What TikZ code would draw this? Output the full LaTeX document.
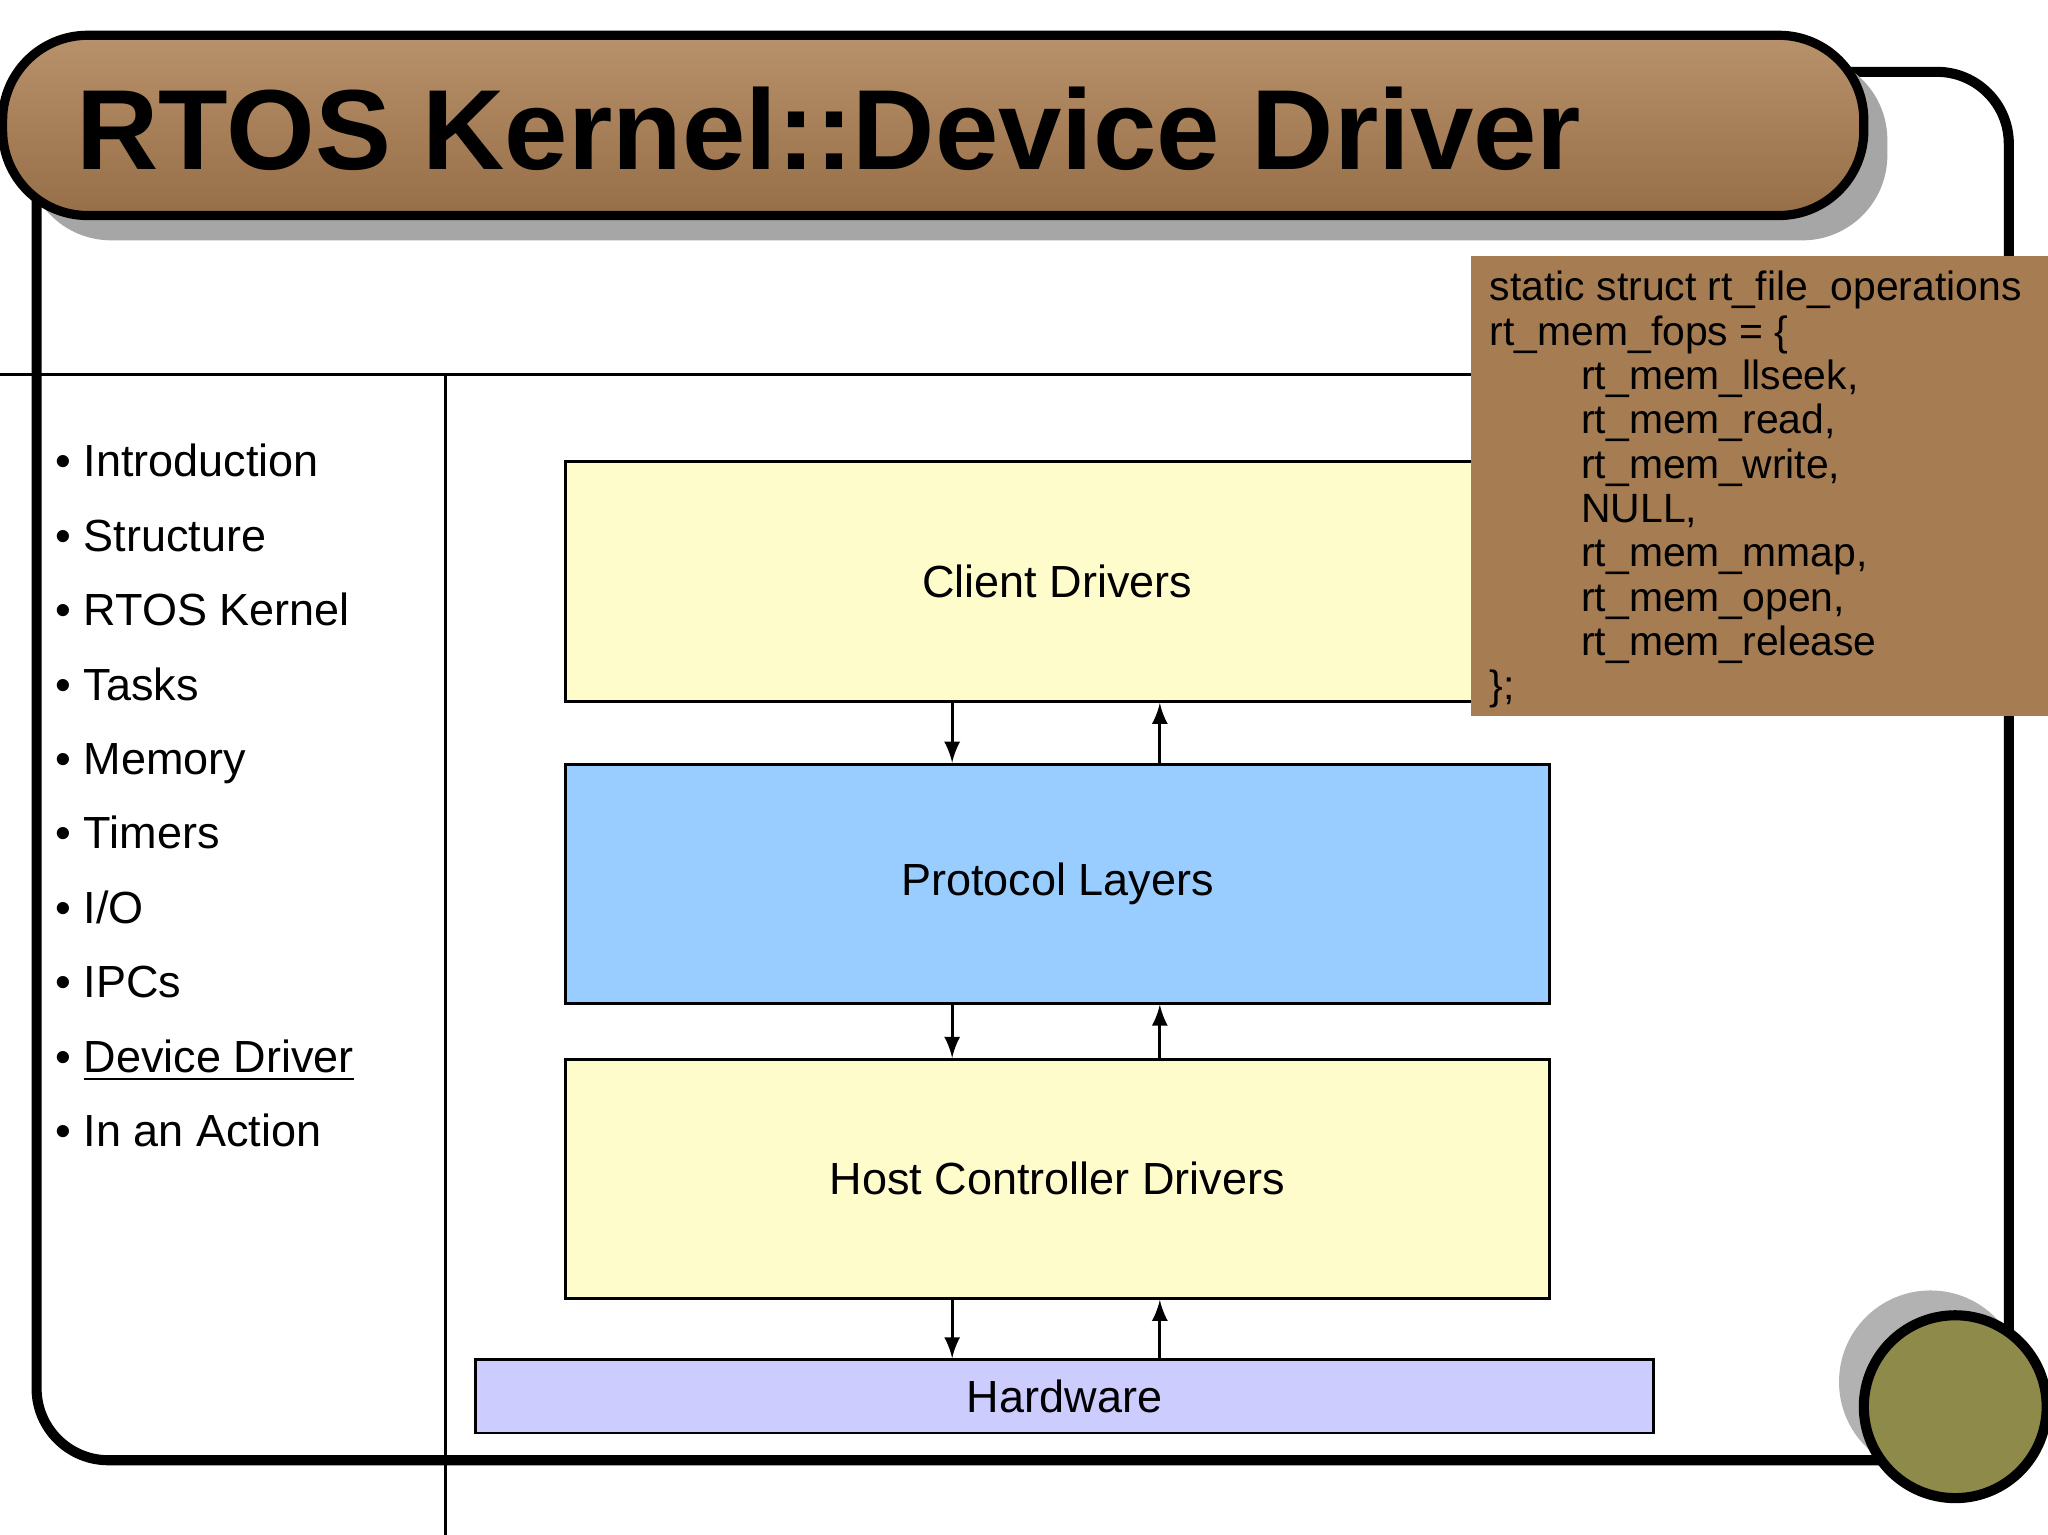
\documentclass[tikz,border=0pt]{standalone}
\usepackage{fontspec}
\setmainfont{Liberation Sans}
\definecolor{codebrown}{RGB}{166,124,82}
\definecolor{protoblue}{RGB}{153,204,255}
\definecolor{hwlav}{RGB}{204,204,255}
\definecolor{olive}{RGB}{142,138,74}
\definecolor{titletop}{RGB}{184,146,106}
\definecolor{titlebot}{RGB}{150,110,72}
\begin{document}
\begin{tikzpicture}[x=0.01cm,y=-0.01cm,
  box/.style={draw=black,line width=0.6pt,inner sep=0pt},
  lbl/.style={font=\fontsize{9.8pt}{11pt}\selectfont},
  arr/.style={-latex,line width=0.6pt},
  bul/.style={anchor=base west,font=\fontsize{9.8pt}{11pt}\selectfont}]
\useasboundingbox (0,0) rectangle (1568,1175);
\fill[white] (0,0) rectangle (1568,1175);
% outer frame
\draw[line width=2.2pt,rounded corners=0.55cm] (28,150) -- (28,1118) -- (1538,1118) -- (1538,55) -- (1400,55);
% title
\fill[gray!70,rounded corners=0.65cm] (20,42) rectangle (1445,184);
\shade[top color=titletop,bottom color=titlebot,rounded corners=0.65cm,draw=black,line width=2pt] (2,27) rectangle (1427,165);
\node[anchor=base west,inner sep=0pt,font=\bfseries\fontsize{24.8pt}{28pt}\selectfont] (title) at (58,130) {RTOS Kernel::Device Driver};
% separator lines
\draw[line width=0.6pt] (0,287) -- (1130,287);
\draw[line width=0.6pt] (341,287) -- (341,1175);
% bullets
\foreach \t [count=\i from 0] in {Introduction,Structure,RTOS Kernel,Tasks,Memory,Timers,I/O,IPCs}
  \node[bul] (b\i) at (30,365+57*\i) {• \t};
\node[bul] (b8) at (30,821) {• \underline{Device Driver}};
\node[bul] (b9) at (30,878) {• In an Action};
% boxes
\node[box,fill=yellow!20,minimum width=753*0.01cm,minimum height=184*0.01cm,anchor=north west,lbl] (client) at (432,352) {Client Drivers};
\node[box,fill=protoblue,minimum width=753*0.01cm,minimum height=183*0.01cm,anchor=north west,lbl] (proto) at (432,584) {Protocol Layers};
\node[box,fill=yellow!20,minimum width=753*0.01cm,minimum height=183*0.01cm,anchor=north west,lbl] (host) at (432,810) {Host Controller Drivers};
\node[box,fill=hwlav,minimum width=902*0.01cm,minimum height=56*0.01cm,anchor=north west,lbl] (hw) at (363,1040) {Hardware};
% arrows
\draw[arr] (client.south -| 729,0) -- (proto.north -| 729,0);
\draw[arr] (proto.north -| 888,0) -- (client.south -| 888,0);
\draw[arr] (proto.south -| 729,0) -- (host.north -| 729,0);
\draw[arr] (host.north -| 888,0) -- (proto.south -| 888,0);
\draw[arr] (host.south -| 729,0) -- (hw.north -| 729,0);
\draw[arr] (hw.north -| 888,0) -- (host.south -| 888,0);
% code box
\fill[codebrown] (1126,196) rectangle (1568,548);
\node[anchor=north west,align=left,inner sep=0pt,font=\fontsize{8.9pt}{9.65pt}\selectfont] (code) at (1140,207) {static struct rt\_file\_operations\\rt\_mem\_fops = \{\\
\hspace*{0.7cm}rt\_mem\_llseek,\\\hspace*{0.7cm}rt\_mem\_read,\\\hspace*{0.7cm}rt\_mem\_write,\\\hspace*{0.7cm}NULL,\\\hspace*{0.7cm}rt\_mem\_mmap,\\\hspace*{0.7cm}rt\_mem\_open,\\\hspace*{0.7cm}rt\_mem\_release\\\};};
% circles
\fill[gray!60] (1478,1058) circle (70);
\draw[line width=2.2pt,fill=olive] (1497,1077) circle (70);
\end{tikzpicture}
\end{document}
